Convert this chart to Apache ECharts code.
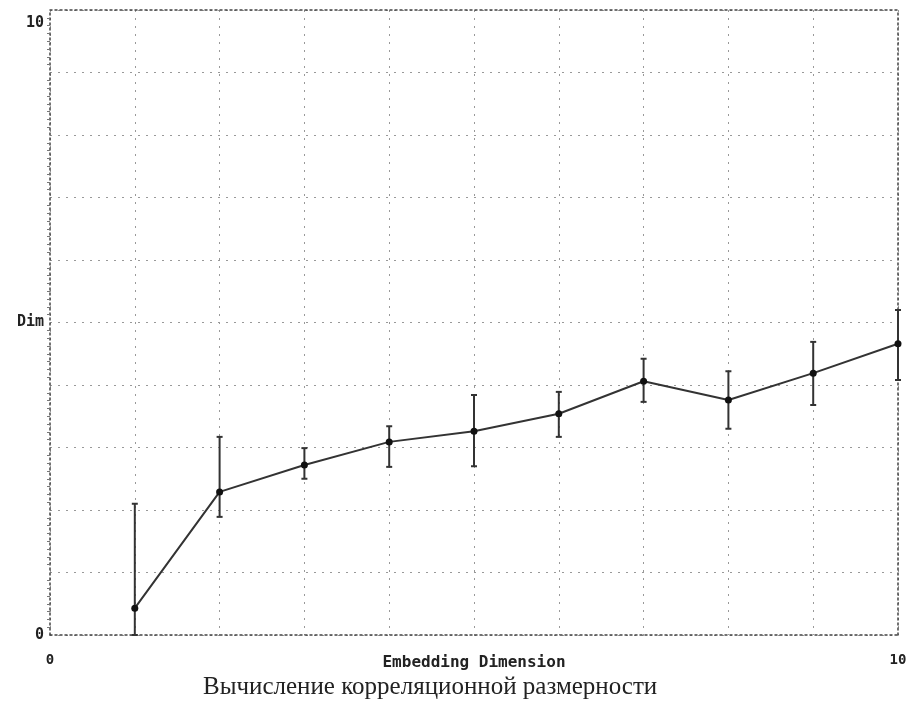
<!DOCTYPE html>
<html>
<head>
<meta charset="utf-8">
<script src="https://cdn.jsdelivr.net/npm/echarts@6/dist/echarts.min.js"></script>
<style>
  html, body { margin: 0; padding: 0; background: #fff; }
  #chart { width: 914px; height: 702px; }
</style>
</head>
<body>
<div id="chart"></div>
<script>
// data
const dims = [1, 2, 3, 4, 5, 6, 7, 8, 9, 10]
const dimValues = [0.43, 2.29, 2.72, 3.09, 3.26, 3.54, 4.06, 3.76, 4.19, 4.66]
const errHigh = [2.10, 3.17, 2.99, 3.34, 3.84, 3.89, 4.42, 4.22, 4.69, 5.20]
const errLow = [0.00, 1.89, 2.50, 2.69, 2.70, 3.17, 3.73, 3.30, 3.68, 4.08]
const yLabels = { 0: '0', 5: 'Dim', 10: '{top|10}' }
const xLabels = { 0: '0', 10: '10' }

const chart = echarts.init(document.getElementById('chart'))

const monoFont = '"DejaVu Sans Mono", "Liberation Mono", monospace'
const frameLine = { color: '#444', width: 1.5, type: [2, 3] }
const gridLine = { color: '#999', width: 1, type: [2, 6] }

const option = {
  animation: false,
  title: {
    text: 'Вычисление корреляционной размерности',
    left: 198,
    top: 670,
    textStyle: {
      fontFamily: '"Liberation Serif", "DejaVu Serif", serif',
      fontWeight: 'normal',
      fontSize: 25,
      color: '#222'
    }
  },
  grid: { left: 50, right: 16, top: 10, bottom: 67 },
  xAxis: [
    {
      type: 'value',
      min: 0,
      max: 10,
      interval: 1,
      name: 'Embedding Dimension',
      nameLocation: 'middle',
      nameGap: 20,
      nameMoveOverlap: false,
      nameTextStyle: { fontFamily: monoFont, fontWeight: 'bold', fontSize: 16, color: '#222' },
      axisLine: { lineStyle: frameLine },
      axisTick: { show: false },
      axisLabel: {
        fontFamily: monoFont, fontWeight: 'bold', fontSize: 14, color: '#222', margin: 18,
        formatter: v => xLabels[v] || ''
      },
      splitLine: { show: true, lineStyle: gridLine }
    },
    {
      type: 'value', position: 'top', min: 0, max: 10,
      axisLine: { show: true, onZero: false, lineStyle: frameLine },
      axisTick: { show: false }, axisLabel: { show: false }, splitLine: { show: false }
    }
  ],
  yAxis: [
    {
      type: 'value',
      min: 0,
      max: 10,
      interval: 1,
      axisLine: { show: true, lineStyle: frameLine },
      axisTick: { show: false },
      minorTick: { show: true, splitNumber: 8, length: 3, lineStyle: { color: '#777' } },
      axisLabel: {
        fontFamily: monoFont, fontWeight: 'bold', fontSize: 15, color: '#222', margin: 6,
        verticalAlignMaxLabel: 'top',
        formatter: v => yLabels[v] || '',
        rich: { top: { fontFamily: monoFont, fontWeight: 'bold', fontSize: 15, color: '#222', padding: [6, 0, 0, 0] } }
      },
      splitLine: { show: true, lineStyle: gridLine }
    },
    {
      type: 'value', position: 'right', min: 0, max: 10,
      axisLine: { show: true, onZero: false, lineStyle: frameLine },
      axisTick: { show: false }, axisLabel: { show: false }, splitLine: { show: false }
    }
  ],
  series: [
    {
      type: 'custom',
      data: dims.map((d, i) => [d, errLow[i], errHigh[i]]),
      renderItem: (params, api) => {
        const lo = api.coord([api.value(0), api.value(1)])
        const hi = api.coord([api.value(0), api.value(2)])
        const style = { stroke: '#333', lineWidth: 2 }
        return {
          type: 'group',
          children: [
            { type: 'line', shape: { x1: lo[0], y1: lo[1], x2: hi[0], y2: hi[1] }, style },
            { type: 'line', shape: { x1: hi[0] - 3, y1: hi[1], x2: hi[0] + 3, y2: hi[1] }, style },
            { type: 'line', shape: { x1: lo[0] - 3, y1: lo[1], x2: lo[0] + 3, y2: lo[1] }, style }
          ]
        }
      },
      z: 3
    },
    {
      type: 'line',
      data: dims.map((d, i) => [d, dimValues[i]]),
      symbol: 'circle',
      symbolSize: 7,
      lineStyle: { color: '#333', width: 2 },
      itemStyle: { color: '#111' },
      z: 4
    }
  ]
}

chart.setOption(option)
</script>
</body>
</html>
